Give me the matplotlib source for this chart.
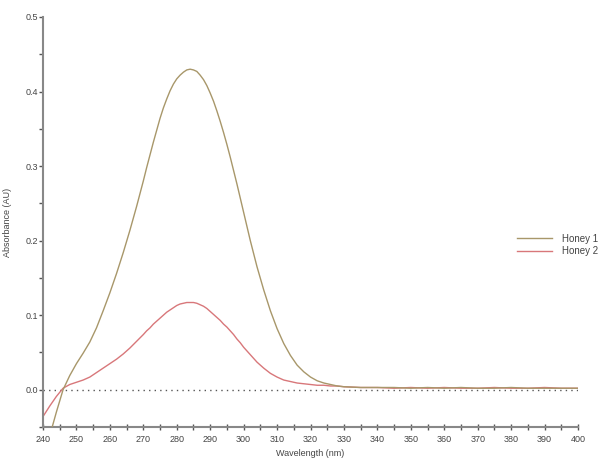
import matplotlib
matplotlib.use("Agg")
import matplotlib.pyplot as plt
from matplotlib.ticker import MultipleLocator, FormatStrFormatter

plt.rcParams['font.family'] = ['Liberation Sans', 'DejaVu Sans']

wavelength = [240, 242, 244, 246, 248, 250, 252, 254, 256, 258, 260, 262, 264, 266, 268,
              270, 271, 272, 273, 274, 275, 276, 277, 278, 279, 280, 281, 282, 283, 284,
              285, 286, 287, 288, 289, 290, 291, 292, 293, 294, 295, 296, 297, 298, 299,
              300, 302, 304, 306, 308, 310, 312, 314, 316, 318, 320, 322, 324, 326, 328,
              330, 335, 340, 345, 350, 355, 360, 365, 370, 375, 380, 385, 390, 395, 400]

honey1 = [-0.090, -0.062, -0.030, 0.000, 0.019, 0.035, 0.049, 0.064, 0.083, 0.106, 0.130,
          0.156, 0.184, 0.214, 0.246,
          0.280, 0.298, 0.315, 0.332, 0.348, 0.364, 0.378, 0.390, 0.401, 0.410, 0.417,
          0.422, 0.426, 0.429, 0.430, 0.429, 0.427, 0.422, 0.416, 0.408, 0.398, 0.387,
          0.374, 0.360, 0.345, 0.329, 0.312, 0.294, 0.276, 0.257,
          0.238, 0.200, 0.165, 0.134, 0.106, 0.082, 0.062, 0.046, 0.033, 0.024, 0.017,
          0.012, 0.009, 0.007, 0.005,
          0.004, 0.003, 0.003, 0.003, 0.002, 0.003, 0.002, 0.003, 0.002, 0.002, 0.003,
          0.002, 0.002, 0.002, 0.002]

honey2 = [-0.036, -0.022, -0.009, 0.002, 0.007, 0.010, 0.013, 0.017, 0.023, 0.029, 0.035,
          0.041, 0.048, 0.056, 0.065,
          0.074, 0.079, 0.083, 0.088, 0.092, 0.096, 0.100, 0.104, 0.107, 0.110, 0.113,
          0.115, 0.116, 0.117, 0.117, 0.117, 0.116, 0.114, 0.112, 0.109, 0.105, 0.101,
          0.097, 0.093, 0.088, 0.084, 0.079, 0.074, 0.068, 0.063,
          0.057, 0.047, 0.037, 0.029, 0.022, 0.017, 0.013, 0.011, 0.009, 0.008, 0.007,
          0.006, 0.006, 0.005, 0.005,
          0.004, 0.003, 0.003, 0.002, 0.003, 0.002, 0.003, 0.002, 0.002, 0.003, 0.002,
          0.002, 0.003, 0.002, 0.002]

series_names = ["Honey 1", "Honey 2"]
colors = ["#a8976a", "#d8777a"]

fig = plt.figure(figsize=(6.01, 4.61), dpi=100)
ax = fig.add_axes([43/601, 34/461, 535/601, 410/461])

ax.axhline(0, color="#555555", lw=1.0, ls=(0, (1, 3)), zorder=1)
ax.plot(wavelength, honey1, color=colors[0], lw=1.0, label=series_names[0], zorder=3)
ax.plot(wavelength, honey2, color=colors[1], lw=1.0, label=series_names[1], zorder=2)

ax.set_xlim(240, 400)
ax.set_ylim(-0.05, 0.5)
ax.xaxis.set_major_locator(MultipleLocator(10))
ax.xaxis.set_minor_locator(MultipleLocator(5))
ax.yaxis.set_major_locator(MultipleLocator(0.1))
ax.yaxis.set_minor_locator(MultipleLocator(0.05))
ax.yaxis.set_major_formatter(FormatStrFormatter('%.1f'))

for s in ["top", "right"]:
    ax.spines[s].set_visible(False)
for s in ["left", "bottom"]:
    ax.spines[s].set_color("#888888")
    ax.spines[s].set_linewidth(1.5)

ax.tick_params(axis='both', which='both', colors="#555555", labelcolor="#444444", labelsize=6.5)
ax.tick_params(axis='x', which='both', direction='inout', length=5, width=1)
ax.tick_params(axis='y', which='both', direction='out', length=3, width=1, pad=0.5)

ax.set_xlabel("Wavelength (nm)", fontsize=6.5, color="#444444", labelpad=3)
ax.set_ylabel("Absorbance (AU)", fontsize=6.5, color="#444444")
ax.yaxis.set_label_coords(-31/535, 0.5)

leg = fig.legend(loc="center left", bbox_to_anchor=(508/601, 1 - 245/461), frameon=False,
                 fontsize=7, handlelength=3.6, labelspacing=0.3, handletextpad=1.1,
                 labelcolor="#444444")

fig.savefig("out.png", dpi=100, facecolor="white")
